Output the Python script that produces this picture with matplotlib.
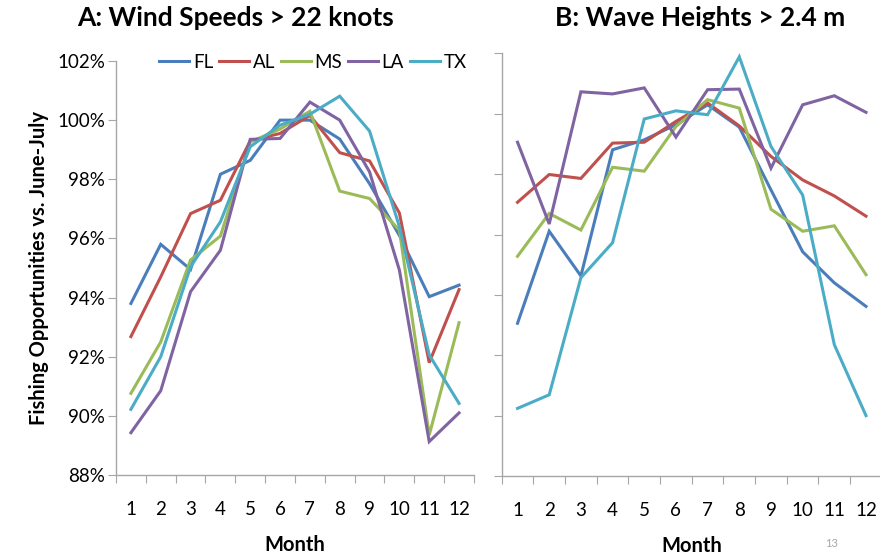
import matplotlib.pyplot as plt
from matplotlib.ticker import FixedLocator, NullFormatter, FuncFormatter

plt.rcParams['font.family'] = ['Lato', 'DejaVu Sans']

months = list(range(1, 13))
states = ['FL', 'AL', 'MS', 'LA', 'TX']
colors = ['#4a7ebb', '#c0504d', '#9bbb59', '#8064a2', '#4bacc6']

# A: wind speeds > 22 knots (% of June-July)
wind_fl = [93.8, 95.8, 94.95, 98.17, 98.64, 100.0, 100.0, 99.36, 97.85, 96.1, 94.03, 94.42]
wind_al = [92.68, 94.7, 96.84, 97.29, 99.3, 99.55, 100.16, 98.9, 98.62, 96.86, 91.8, 94.27]
wind_ms = [90.76, 92.5, 95.27, 96.08, 99.26, 99.7, 100.3, 97.6, 97.35, 96.28, 89.35, 93.15]
wind_la = [89.43, 90.85, 94.2, 95.6, 99.35, 99.38, 100.61, 100.0, 98.25, 94.93, 89.13, 90.1]
wind_tx = [90.22, 92.0, 95.04, 96.56, 99.1, 99.83, 100.2, 100.81, 99.63, 96.4, 92.06, 90.42]

# B: wave heights > 2.4 m
wave_fl = [93.06, 96.11, 94.63, 98.81, 99.14, 99.64, 100.3, 99.56, 97.48, 95.43, 94.4, 93.62]
wave_al = [97.07, 97.99, 97.86, 99.03, 99.06, 99.75, 100.36, 99.6, 98.59, 97.81, 97.28, 96.61]
wave_ms = [95.28, 96.7, 96.15, 98.23, 98.1, 99.58, 100.47, 100.19, 96.84, 96.11, 96.29, 94.67]
wave_la = [99.06, 96.35, 100.73, 100.66, 100.86, 99.23, 100.8, 100.82, 98.2, 100.3, 100.6, 100.05]
wave_tx = [90.24, 90.69, 94.57, 95.73, 99.83, 100.1, 99.97, 101.89, 98.92, 97.31, 92.35, 90.0]

wind = [wind_fl, wind_al, wind_ms, wind_la, wind_tx]
wave = [wave_fl, wave_al, wave_ms, wave_la, wave_tx]

fig = plt.figure(figsize=(8.8, 5.56), dpi=100)
ax_a = fig.add_axes([0.1318, 0.1457, 0.4068, 0.7446])
ax_b = fig.add_axes([0.5701, 0.1439, 0.432, 0.7599])

spine_color = '#a6a6a6'
for ax, series in [(ax_a, wind), (ax_b, wave)]:
    for s, vals, c in zip(states, series, colors):
        ax.plot(months, vals, color=c, lw=2.2, label=s, solid_joinstyle='miter')
    ax.set_xlim(0.5, 12.5)
    ax.set_ylim(88, 102)
    ax.xaxis.set_major_locator(FixedLocator([m - 0.5 for m in months] + [12.5]))
    ax.xaxis.set_major_formatter(NullFormatter())
    ax.xaxis.set_minor_locator(FixedLocator(months))
    ax.xaxis.set_minor_formatter(FuncFormatter(lambda v, p: f'{int(v)}'))
    ax.tick_params(axis='x', which='major', direction='out', length=6, color=spine_color)
    ax.tick_params(axis='x', which='minor', length=0, pad=19, labelsize=13.5)
    ax.set_yticks(range(88, 103, 2))
    ax.tick_params(axis='y', direction='out', length=6, color=spine_color, labelsize=13.5, pad=2)
    for side in ['top', 'right']:
        ax.spines[side].set_visible(False)
    for side in ['left', 'bottom']:
        ax.spines[side].set_color(spine_color)
        ax.spines[side].set_linewidth(1.0)
    ax.set_xlabel('Month', fontsize=14.5, fontweight='bold', labelpad=12)

ax_a.yaxis.set_major_formatter(FuncFormatter(lambda v, p: f'{int(v)}%'))
ax_b.yaxis.set_major_formatter(NullFormatter())
ax_a.set_ylabel('Fishing Opportunities vs. June-July', fontsize=14.5, fontweight='bold', labelpad=6)

ax_a.legend(loc='upper center', bbox_to_anchor=(0.55, 1.035), ncol=5, frameon=False,
            handlelength=1.6, handletextpad=0.2, columnspacing=0.3, fontsize=13.5,
            borderaxespad=0)

fig.text(0.268, 0.967, 'A: Wind Speeds > 22 knots', ha='center', va='center',
         fontsize=19, fontweight='bold')
fig.text(0.796, 0.967, 'B: Wave Heights > 2.4 m', ha='center', va='center',
         fontsize=19, fontweight='bold')
fig.text(0.945, 0.023, '13', ha='center', va='center', fontsize=8, color='#a6a6a6')

fig.savefig('out.png', dpi=100)
